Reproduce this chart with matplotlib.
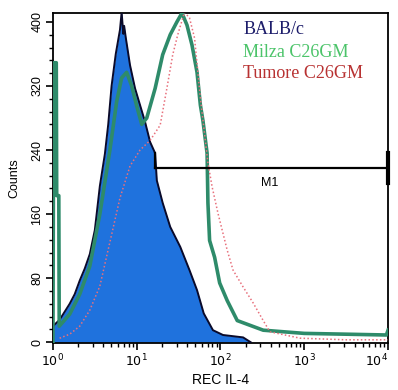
import matplotlib
matplotlib.use("Agg")
import matplotlib.pyplot as plt
import numpy as np

# channel positions read as log10(REC IL-4) and the counts at them
balb_log = [0.0, 0.08, 0.14, 0.20, 0.26, 0.32, 0.38, 0.44, 0.50, 0.56, 0.62, 0.66,
            0.70, 0.75, 0.80, 0.82, 0.84, 0.85, 0.87, 0.92, 0.98, 1.04, 1.10, 1.16, 1.22,
            1.24, 1.31, 1.40, 1.52, 1.63, 1.72, 1.80, 1.91, 2.03, 2.27, 2.36]
balb_cnt = [20, 28, 38, 48, 60, 77, 92, 110, 140, 195, 235, 272,
            320, 360, 390, 412, 385, 395, 380, 346, 317, 296, 275, 250, 236,
            202, 174, 144, 119, 90, 65, 36, 15, 9, 6, 0]

milza_log = [0.0, 0.01, 0.04, 0.045, 0.07, 0.075, 0.20, 0.32, 0.44, 0.56, 0.68, 0.76,
             0.82, 0.88, 0.94, 1.00, 1.06, 1.12, 1.22, 1.31, 1.40, 1.48, 1.54, 1.60,
             1.66, 1.72, 1.76, 1.79, 1.84, 1.85, 1.87, 1.93, 1.99, 2.08, 2.20, 2.51,
             3.0, 3.5, 3.98, 4.0]
milza_cnt = [0, 349, 349, 183, 183, 20, 35, 60, 95, 160, 240, 300,
             330, 337, 320, 295, 272, 280, 317, 359, 384, 400, 411, 396,
             371, 337, 296, 277, 236, 174, 127, 106, 74, 52, 27, 15,
             11, 10, 9, 15]

tumore_log = [0.08, 0.20, 0.32, 0.44, 0.56, 0.80, 0.92, 1.04, 1.16, 1.28, 1.36, 1.43,
              1.49, 1.57, 1.63, 1.69, 1.73, 1.76, 1.85, 1.90, 1.97, 2.02, 2.08, 2.15,
              2.27, 2.39, 2.51, 2.59, 2.95, 3.5, 4.0]
tumore_cnt = [5, 10, 20, 40, 70, 180, 220, 240, 252, 271, 317, 359,
              384, 412, 405, 380, 337, 305, 224, 194, 161, 140, 115, 90,
              69, 49, 27, 13, 5, 3, 3]

m1_start = 16.5
m1_end = 1e4
m1_level = 218

fig = plt.figure(figsize=(3.98, 3.90), dpi=100)
ax = fig.add_axes([0.133, 0.1205, 0.842, 0.846])

bx = 10 ** np.array(balb_log)
ax.fill_between(bx, balb_cnt, 0, color="#1f72dd", zorder=2, lw=0)
ax.plot(bx, balb_cnt, color="#0a0a2a", lw=1.4, zorder=3)

mx = 10 ** np.array(milza_log)
ax.plot(mx, milza_cnt, color="#2e8b6a", lw=2.6, zorder=4)

tx = 10 ** np.array(tumore_log)
ax.plot(tx, tumore_cnt, color="#e8707c", lw=1.1, ls=(0, (1, 1.5)), zorder=5)

# M1 marker
ax.plot([m1_start, m1_end], [m1_level, m1_level], color="black", lw=1.6, zorder=6)
ax.plot([m1_end, m1_end], [m1_level - 19, m1_level + 18], color="black", lw=3, zorder=6,
        clip_on=False)
ax.plot([m1_start, m1_start], [m1_level, m1_level + 18], color="black", lw=1.6, zorder=6)
ax.text(390, 199, "M1", fontsize=9, family="Liberation Sans", ha="center", va="center")

ax.text(186, 390, "BALB/c", color="#1c1c6a", fontsize=13, family="Liberation Serif", va="center")
ax.text(186, 362, "Milza C26GM", color="#4cc46a", fontsize=13, family="Liberation Serif", va="center")
ax.text(186, 335, "Tumore C26GM", color="#b83232", fontsize=13, family="Liberation Serif", va="center")

ax.set_xscale("log")
ax.set_xlim(1, 1e4)
ax.set_ylim(-1, 411)
ax.set_yticks([0, 80, 160, 240, 320, 400])
ax.set_yticks(np.arange(0, 411, 16), minor=True)
ax.set_xticks([1, 10, 100, 1000, 10000])
ax.set_xticklabels([r"$10^0$", r"$10^1$", r"$10^2$", r"$10^3$", r"$10^4$"])
for lab in ax.get_yticklabels():
    lab.set_rotation(90)
    lab.set_va("center")
ax.tick_params(axis="both", labelsize=9, width=1.2, length=5, direction="out", pad=2)
ax.tick_params(which="minor", width=1, length=3)
for lab in ax.get_xticklabels() + ax.get_yticklabels():
    lab.set_family("Liberation Sans")
ax.get_xticklabels()[-1].set_ha("right")
for s in ax.spines.values():
    s.set_linewidth(1.3)

ax.set_xlabel("REC IL-4", fontsize=10, family="Liberation Sans", labelpad=3)
ax.set_ylabel("Counts", fontsize=9, family="Liberation Sans", labelpad=8)

fig.savefig("out.png", dpi=100)
